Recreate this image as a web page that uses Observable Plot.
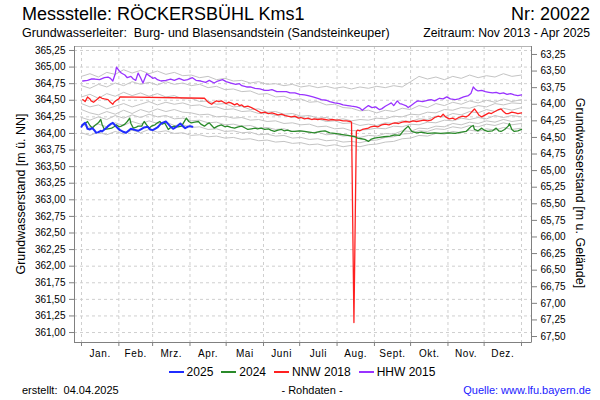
<!DOCTYPE html>
<html><head><meta charset="utf-8">
<script src="https://cdn.jsdelivr.net/npm/d3@7"></script>
<script src="https://cdn.jsdelivr.net/npm/@observablehq/plot@0.6"></script>
<style>
body{margin:0;background:#fff;}
#wrap{position:relative;width:600px;height:400px;font-family:"Liberation Sans",Arial,sans-serif;color:#000;overflow:hidden;background:#fff}
.t{position:absolute;white-space:pre;line-height:1}
#plot{position:absolute;left:0;top:0}
#legend{position:absolute;top:366px;left:0;width:604px;display:flex;justify-content:center;font-size:12px;line-height:12px}
#legend .it{display:flex;align-items:center;margin:0 4px}
#legend .sw{display:inline-block;width:15px;height:0;border-top:2px solid;margin-right:3px}
</style></head><body><div id="wrap">
<div class="t" style="left:22px;top:5px;font-size:18px">Messstelle: RÖCKERSBÜHL Kms1</div>
<div class="t" style="right:10px;top:5px;font-size:18px">Nr: 20022</div>
<div class="t" style="left:22px;top:27px;font-size:12.5px">Grundwasserleiter:  Burg- und Blasensandstein (Sandsteinkeuper)</div>
<div class="t" style="right:10px;top:27px;font-size:12.2px">Zeitraum: Nov 2013 - Apr 2025</div>
<div id="plot"></div>
<div class="t" style="left:21px;top:194px;font-size:12.5px;transform:translate(-50%,-50%) rotate(-90deg)">Grundwasserstand [m ü. NN]</div>
<div class="t" style="left:580px;top:193px;font-size:12.5px;transform:translate(-50%,-50%) rotate(90deg)">Grundwasserstand [m u. Gelände]</div>
<div id="legend"></div>
<div class="t" style="left:22px;top:385px;font-size:11px">erstellt:  04.04.2025</div>
<div class="t" style="left:312px;top:385px;font-size:11px;transform:translateX(-50%)">- Rohdaten -</div>
<div class="t" style="right:9px;top:385px;font-size:11px;color:#1a1aff">Quelle: www.lfu.bayern.de</div>
</div>
<script>
// axis ticks
const leftTicks = [361.00,361.25,361.50,361.75,362.00,362.25,362.50,362.75,363.00,363.25,363.50,363.75,364.00,364.25,364.50,364.75,365.00,365.25];
const rightLabels = [63.25,63.50,63.75,64.00,64.25,64.50,64.75,65.00,65.25,65.50,65.75,66.00,66.25,66.50,66.75,67.00,67.25,67.50];
const surface = 428.44; // Geländehöhe [m ü. NN]
const monthStarts = [0,31,59,90,120,151,181,212,243,273,304,334,365];
const monthNames = ["Jan.","Feb.","Mrz.","Apr.","Mai","Juni","Juli","Aug.","Sept.","Okt.","Nov.","Dez."];

// series: [day of year, level m ü. NN]
const y2025 = [[0,364.10],[1,364.13],[3,364.16],[4,364.12],[5,364.07],[7,364.06],[9,364.08],[11,364.04],[12,364.01],[14,364.02],[16,364.04],[17,364.03],[19,364.06],[21,364.09],[22,364.11],[24,364.14],[26,364.16],[28,364.12],[30,364.08],[32,364.05],[34,364.03],[37,364.01],[39,364.04],[41,364.07],[43,364.06],[45,364.05],[47,364.04],[50,364.07],[52,364.09],[55,364.10],[57,364.06],[59,364.05],[61,364.07],[63,364.09],[65,364.13],[67,364.16],[70,364.18],[72,364.14],[74,364.10],[76,364.07],[78,364.09],[80,364.12],[82,364.15],[84,364.11],[86,364.08],[88,364.10],[90,364.11],[92,364.10]];
const y2024 = [[1,364.13],[3,364.15],[5,364.18],[7,364.12],[9,364.08],[11,364.12],[14,364.16],[16,364.21],[17,364.14],[19,364.06],[22,364.07],[25,364.08],[27,364.10],[29,364.13],[31,364.10],[33,364.11],[36,364.14],[38,364.18],[40,364.23],[41,364.15],[43,364.08],[45,364.09],[47,364.11],[50,364.11],[51,364.15],[52,364.18],[54,364.13],[56,364.08],[58,364.11],[61,364.13],[63,364.16],[65,364.18],[67,364.14],[69,364.16],[72,364.06],[74,364.09],[77,364.11],[80,364.10],[83,364.11],[85,364.17],[87,364.23],[89,364.18],[91,364.16],[94,364.17],[97,364.18],[99,364.14],[102,364.11],[104,364.14],[106,364.16],[108,364.12],[110,364.08],[113,364.11],[116,364.13],[119,364.10],[121,364.11],[124,364.09],[127,364.08],[130,364.10],[133,364.11],[135,364.09],[138,364.06],[141,364.07],[144,364.08],[146,364.07],[149,364.08],[152,364.06],[155,364.07],[157,364.05],[160,364.03],[163,364.05],[166,364.06],[168,364.04],[171,364.05],[174,364.03],[177,364.03],[181,364.04],[185,364.03],[189,364.02],[193,364.01],[198,364.03],[202,364.04],[206,364.01],[210,364.00],[214,363.99],[218,363.98],[221,363.97],[224,363.96],[227,363.95],[229,363.93],[232,363.92],[235,363.91],[238,363.88],[240,363.91],[243,363.93],[247,363.94],[251,363.95],[256,363.96],[260,363.98],[264,363.97],[268,364.06],[271,364.11],[274,364.03],[278,364.01],[282,364.02],[287,364.00],[293,364.01],[298,364.00],[304,364.01],[310,364.00],[315,364.02],[319,364.03],[323,364.10],[325,364.12],[326,364.06],[329,364.04],[332,364.08],[334,364.05],[337,364.03],[341,364.04],[344,364.08],[346,364.04],[348,364.03],[351,364.06],[354,364.11],[355,364.15],[357,364.06],[359,364.03],[362,364.04],[365,364.06]];
const nnw2018 = [[1,364.51],[3,364.48],[5,364.55],[7,364.52],[8,364.49],[10,364.47],[12,364.50],[14,364.53],[15,364.55],[17,364.53],[19,364.52],[22,364.51],[24,364.47],[26,364.44],[27,364.47],[29,364.50],[31,364.52],[32,364.55],[102,364.53],[104,364.49],[106,364.46],[108,364.44],[110,364.47],[112,364.49],[114,364.48],[116,364.49],[118,364.47],[120,364.45],[122,364.47],[124,364.46],[127,364.43],[129,364.45],[131,364.42],[133,364.43],[135,364.40],[138,364.41],[141,364.39],[144,364.36],[147,364.33],[149,364.31],[152,364.32],[155,364.30],[158,364.31],[160,364.30],[163,364.28],[166,364.29],[169,364.27],[171,364.26],[174,364.25],[177,364.26],[180,364.23],[182,364.24],[185,364.22],[188,364.23],[191,364.21],[193,364.22],[196,364.21],[199,364.22],[202,364.21],[205,364.20],[208,364.21],[211,364.20],[214,364.20],[217,364.19],[220,364.19],[223,364.18],[224,364.17],[226,361.15],[228,364.03],[229,364.05],[231,364.04],[233,364.06],[235,364.07],[238,364.08],[240,364.10],[243,364.11],[246,364.10],[249,364.13],[252,364.14],[255,364.13],[258,364.15],[260,364.16],[263,364.15],[266,364.17],[269,364.18],[272,364.17],[275,364.19],[278,364.18],[281,364.19],[284,364.20],[287,364.19],[290,364.20],[293,364.24],[296,364.26],[298,364.25],[300,364.29],[302,364.25],[305,364.22],[308,364.23],[310,364.21],[313,364.24],[316,364.26],[319,364.25],[321,364.27],[323,364.31],[325,364.35],[326,364.37],[328,364.32],[330,364.27],[332,364.25],[335,364.28],[338,364.31],[340,364.30],[343,364.33],[346,364.36],[348,364.37],[350,364.33],[352,364.30],[354,364.30],[357,364.32],[360,364.31],[362,364.30],[365,364.31]];
const hhw2015 = [[1,364.79],[5,364.80],[8,364.82],[11,364.82],[15,364.81],[19,364.84],[22,364.85],[24,364.83],[26,364.79],[28,364.90],[29,365.00],[31,364.95],[33,364.91],[36,364.88],[38,364.84],[41,364.86],[43,364.82],[45,364.80],[47,364.91],[49,364.84],[51,364.76],[53,364.85],[54,364.90],[57,364.86],[59,364.83],[61,364.84],[63,364.81],[66,364.79],[70,364.80],[74,364.82],[77,364.80],[81,364.83],[85,364.80],[88,364.81],[92,364.84],[95,364.80],[99,364.79],[103,364.77],[106,364.80],[110,364.76],[113,364.79],[117,364.81],[120,364.78],[124,364.76],[128,364.74],[131,364.75],[133,364.72],[137,364.70],[140,364.70],[144,364.68],[148,364.67],[152,364.65],[155,364.65],[158,364.66],[162,364.63],[166,364.63],[170,364.63],[173,364.61],[177,364.61],[181,364.59],[185,364.58],[188,364.57],[192,364.55],[196,364.53],[199,364.51],[203,364.50],[206,364.48],[210,364.46],[214,364.45],[217,364.43],[221,364.42],[224,364.41],[228,364.40],[231,364.38],[233,364.35],[235,364.38],[238,364.42],[241,364.39],[244,364.40],[247,364.36],[249,364.37],[252,364.41],[255,364.44],[257,364.46],[259,364.42],[262,364.49],[264,364.45],[266,364.44],[269,364.42],[271,364.39],[274,364.43],[277,364.47],[279,364.49],[283,364.48],[287,364.50],[290,364.51],[293,364.49],[297,364.53],[300,364.52],[303,364.55],[306,364.52],[310,364.51],[313,364.52],[317,364.55],[321,364.57],[323,364.60],[325,364.70],[327,364.66],[329,364.64],[332,364.65],[335,364.63],[338,364.62],[341,364.61],[344,364.62],[347,364.60],[350,364.61],[353,364.59],[356,364.60],[359,364.58],[362,364.57],[365,364.58]];

// other years (grey), weekly readings
const greyDays = [0,7,14,21,28,35,42,49,56,63,70,77,84,91,98,105,112,119,126,133,140,147,154,161,168,175,182,189,196,203,210,217,224,231,238,245,252,259,266,273,280,287,294,301,308,315,322,329,336,343,350,357,365];
const g2014 = [364.86,364.90,364.85,364.92,364.89,364.96,364.91,364.95,364.90,364.94,364.89,364.92,364.87,364.88,364.84,364.86,364.81,364.83,364.79,364.80,364.76,364.78,364.74,364.75,364.72,364.74,364.70,364.72,364.69,364.71,364.68,364.70,364.67,364.70,364.68,364.71,364.69,364.72,364.70,364.78,364.86,364.82,364.85,364.81,364.86,364.83,364.88,364.84,364.87,364.85,364.90,364.86,364.88];
const g2016 = [364.72,364.68,364.74,364.70,364.76,364.72,364.78,364.74,364.77,364.73,364.78,364.74,364.76,364.72,364.74,364.69,364.71,364.66,364.67,364.63,364.64,364.59,364.60,364.55,364.56,364.51,364.52,364.47,364.48,364.43,364.44,364.39,364.38,364.34,364.35,364.31,364.35,364.33,364.38,364.36,364.42,364.39,364.45,364.42,364.47,364.44,364.49,364.46,364.50,364.47,364.52,364.48,364.51];
const g2017 = [364.45,364.40,364.43,364.37,364.41,364.45,364.40,364.44,364.48,364.43,364.47,364.44,364.46,364.42,364.43,364.39,364.40,364.36,364.37,364.33,364.34,364.30,364.31,364.27,364.28,364.24,364.25,364.21,364.22,364.18,364.19,364.15,364.16,364.12,364.14,364.12,364.16,364.15,364.19,364.18,364.22,364.21,364.26,364.25,364.30,364.28,364.33,364.31,364.36,364.33,364.38,364.35,364.39];
const g2019 = [364.36,364.31,364.28,364.33,364.29,364.35,364.30,364.36,364.32,364.37,364.33,364.36,364.32,364.31,364.28,364.29,364.25,364.26,364.23,364.24,364.20,364.21,364.18,364.19,364.15,364.16,364.13,364.14,364.10,364.11,364.07,364.08,364.04,364.05,364.06,364.08,364.07,364.11,364.10,364.14,364.13,364.17,364.16,364.20,364.19,364.23,364.21,364.24,364.22,364.27,364.24,364.27,364.25];
const g2020 = [364.24,364.20,364.25,364.21,364.27,364.23,364.28,364.24,364.29,364.25,364.27,364.22,364.23,364.19,364.20,364.16,364.17,364.13,364.14,364.11,364.12,364.08,364.09,364.06,364.07,364.03,364.04,364.01,364.02,363.98,363.99,363.96,363.97,363.94,363.97,363.96,364.00,363.99,364.04,364.03,364.08,364.07,364.11,364.10,364.15,364.13,364.17,364.15,364.19,364.17,364.21,364.18,364.20];
const g2021 = [364.13,364.09,364.14,364.10,364.16,364.12,364.18,364.14,364.19,364.15,364.17,364.12,364.13,364.09,364.10,364.06,364.07,364.03,364.04,364.01,364.02,363.98,363.99,363.96,363.97,363.93,363.94,363.91,363.92,363.89,363.90,363.87,363.88,363.86,363.89,363.90,363.94,363.95,363.99,364.00,364.04,364.03,364.07,364.06,364.10,364.08,364.12,364.10,364.14,364.12,364.16,364.13,364.15];
const g2022 = [364.01,363.97,364.02,363.98,364.03,363.99,364.05,364.01,364.06,364.02,364.04,364.00,364.01,363.97,363.98,363.95,363.96,363.93,363.94,363.91,363.92,363.89,363.90,363.87,363.88,363.85,363.86,363.83,363.84,363.81,363.83,363.80,363.82,363.80,363.83,363.84,363.87,363.88,363.92,363.93,363.97,363.96,364.00,363.99,364.03,364.01,364.05,364.03,364.07,364.05,364.09,364.06,364.08];
const g2023 = [364.55,364.59,364.53,364.60,364.56,364.62,364.57,364.61,364.56,364.60,364.55,364.57,364.52,364.53,364.48,364.49,364.44,364.45,364.40,364.41,364.36,364.37,364.32,364.33,364.29,364.30,364.26,364.27,364.23,364.24,364.20,364.22,364.19,364.21,364.20,364.23,364.22,364.26,364.25,364.29,364.28,364.32,364.31,364.36,364.35,364.39,364.38,364.42,364.40,364.45,364.43,364.46,364.45];

const greyYears = [g2014,g2016,g2017,g2019,g2020,g2021,g2022,g2023];
const legendItems = [["2025","#1f2cff"],["2024","#2a8a2a"],["NNW 2018","#ff2020"],["HHW 2015","#9933ff"]];

const fmt = v => v.toFixed(2).replace(".", ",");
const rightTicks = rightLabels.map(v => +(surface - v).toFixed(4));
const monthMids = monthStarts.slice(0,-1).map((d,i) => (d + monthStarts[i+1]) / 2);
const toPts = arr => arr.map(([d,v]) => ({d, v}));
const grid = {stroke:"#cfcfcf", strokeOpacity:1, strokeDasharray:"3,3"};

const xDom = [-5.8, 373.3], yDom = [360.85, 365.31];
const marks = [
  Plot.gridY(leftTicks, grid),
  Plot.gridX(monthStarts, grid),
  Plot.frame({stroke:"#b4b4b4"}),
  Plot.ruleX([xDom[0], xDom[1]], {stroke:"#808080"}),
  Plot.ruleY([yDom[0]], {stroke:"#808080"}),
  Plot.axisY(leftTicks, {anchor:"left", tickFormat: fmt, tickSize:5, tickPadding:4, label:null, stroke:"#808080"}),
  Plot.axisY(rightTicks, {anchor:"right", tickFormat: d => fmt(surface - d), tickSize:5, tickPadding:4, label:null, stroke:"#808080"}),
  Plot.axisX(monthStarts, {tickFormat: () => "", tickSize:4, label:null, stroke:"#808080"}),
  Plot.axisX(monthMids, {tickSize:0, tickPadding:7, tickFormat: d => monthNames[monthMids.indexOf(d)], label:null}),
];
for (const g of greyYears) {
  marks.push(Plot.line(greyDays.map((d,i) => ({d, v:g[i]})), {x:"d", y:"v", stroke:"#c4c4c4", strokeWidth:1}));
}
marks.push(Plot.line(toPts(hhw2015), {x:"d", y:"v", stroke:"#9933ff", strokeWidth:1.3}));
marks.push(Plot.line(toPts(nnw2018), {x:"d", y:"v", stroke:"#ff2020", strokeWidth:1.3}));
marks.push(Plot.line(toPts(y2024), {x:"d", y:"v", stroke:"#2a8a2a", strokeWidth:1.3}));
marks.push(Plot.line(toPts(y2025), {x:"d", y:"v", stroke:"#1f2cff", strokeWidth:2}));

const chart = Plot.plot({
  width: 600, height: 360,
  marginLeft: 74, marginRight: 69, marginTop: 46, marginBottom: 18,
  x: {type:"linear", domain: xDom},
  y: {domain: yDom},
  style: {fontFamily: '"Liberation Sans", Arial, sans-serif', fontSize: "10px", color: "#000", background: "transparent", overflow: "visible"},
  marks
});
document.getElementById("plot").appendChild(chart);
chart.querySelectorAll('g[aria-label="x-axis tick label"] text').forEach(t => t.style.letterSpacing = "0.6px");

const leg = document.getElementById("legend");
for (const [name, col] of legendItems) {
  const it = document.createElement("div"); it.className = "it";
  const sw = document.createElement("span"); sw.className = "sw"; sw.style.borderTopColor = col;
  const tx = document.createElement("span"); tx.textContent = name;
  it.appendChild(sw); it.appendChild(tx); leg.appendChild(it);
}
</script>
</body></html>
